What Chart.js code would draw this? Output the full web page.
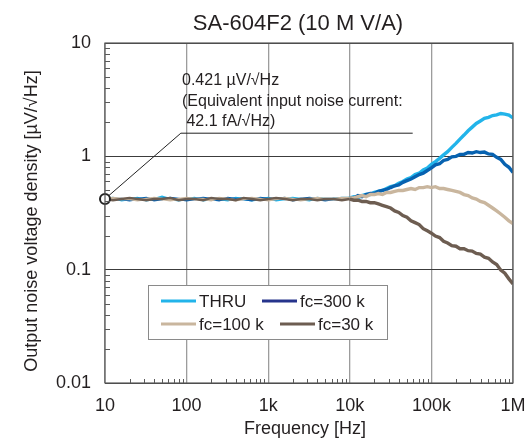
<!DOCTYPE html>
<html>
<head>
<meta charset="utf-8">
<script src="https://cdn.jsdelivr.net/npm/chart.js@4/dist/chart.umd.min.js"></script>
<style>
  body { margin: 0; background: #fff; }
  canvas { display: block; }
</style>
</head>
<body>
<canvas id="chart1" width="525" height="440"></canvas>
<script>
const FONT = "'Liberation Sans', Arial, sans-serif";
const TEXT = '#231f20';

// frequency points [Hz]
const freqs = [10, 12.5, 16, 20, 25, 32, 40, 50, 63, 80,
    100, 125, 160, 200, 250, 320, 400, 500, 630, 800,
    1000, 1250, 1600, 2000, 2500, 3200, 4000, 5000, 6300, 8000,
    10000, 11200, 12600, 14100, 15800, 17800, 20000, 22400, 25100, 28200,
    31600, 35500, 39800, 44700, 50100, 56200, 63100, 70800, 79400, 89100,
    100000, 112000, 126000, 141000, 158000, 178000, 200000, 224000, 251000, 282000,
    316000, 355000, 398000, 447000, 501000, 562000, 631000, 708000, 794000, 891000,
    1000000];

// output noise voltage density [uV/rtHz]
const thru = [0.42, 0.43, 0.41, 0.42, 0.43, 0.41, 0.42, 0.44, 0.42, 0.41,
    0.42, 0.43, 0.41, 0.42, 0.42, 0.41, 0.43, 0.42, 0.41, 0.42,
    0.43, 0.41, 0.42, 0.43, 0.42, 0.41, 0.43, 0.42, 0.42, 0.43,
    0.43, 0.44, 0.43, 0.45, 0.46, 0.46, 0.48, 0.49, 0.50, 0.52,
    0.54, 0.55, 0.58, 0.60, 0.63, 0.65, 0.69, 0.71, 0.76, 0.79,
    0.85, 0.90, 0.96, 1.03, 1.10, 1.20, 1.30, 1.42, 1.54, 1.68,
    1.81, 1.95, 2.05, 2.16, 2.21, 2.29, 2.32, 2.39, 2.36, 2.31,
    2.18];
const fc300k = [0.43, 0.42, 0.42, 0.41, 0.42, 0.43, 0.41, 0.42, 0.43, 0.42,
    0.41, 0.42, 0.43, 0.42, 0.41, 0.43, 0.42, 0.42, 0.41, 0.43,
    0.42, 0.42, 0.43, 0.41, 0.42, 0.43, 0.42, 0.41, 0.42, 0.42,
    0.43, 0.43, 0.45, 0.44, 0.46, 0.47, 0.47, 0.49, 0.50, 0.51,
    0.53, 0.55, 0.56, 0.59, 0.61, 0.63, 0.66, 0.69, 0.71, 0.75,
    0.79, 0.84, 0.86, 0.92, 0.94, 0.99, 1.00, 1.04, 1.04, 1.08,
    1.07, 1.10, 1.08, 1.09, 1.05, 1.04, 0.98, 0.94, 0.85, 0.80,
    0.72];
const fc100k = [0.42, 0.43, 0.42, 0.42, 0.41, 0.42, 0.43, 0.42, 0.41, 0.42,
    0.43, 0.42, 0.42, 0.41, 0.43, 0.42, 0.41, 0.42, 0.43, 0.42,
    0.41, 0.42, 0.43, 0.42, 0.41, 0.42, 0.43, 0.42, 0.42, 0.43,
    0.43, 0.43, 0.44, 0.45, 0.44, 0.46, 0.46, 0.47, 0.46, 0.48,
    0.48, 0.49, 0.50, 0.50, 0.51, 0.52, 0.51, 0.53, 0.53, 0.54,
    0.53, 0.54, 0.52, 0.52, 0.51, 0.50, 0.49, 0.48, 0.46, 0.45,
    0.43, 0.42, 0.40, 0.39, 0.37, 0.35, 0.33, 0.31, 0.29, 0.27,
    0.255];
const fc30k = [0.42, 0.41, 0.42, 0.43, 0.42, 0.41, 0.42, 0.42, 0.43, 0.41,
    0.42, 0.42, 0.41, 0.43, 0.42, 0.42, 0.41, 0.43, 0.42, 0.41,
    0.42, 0.43, 0.42, 0.41, 0.42, 0.42, 0.41, 0.42, 0.42, 0.41,
    0.42, 0.41, 0.41, 0.40, 0.40, 0.39, 0.39, 0.38, 0.37, 0.36,
    0.35, 0.33, 0.32, 0.30, 0.29, 0.27, 0.26, 0.25, 0.23, 0.22,
    0.21, 0.198, 0.192, 0.178, 0.172, 0.163, 0.161, 0.153, 0.153, 0.147,
    0.146, 0.139, 0.137, 0.129, 0.126, 0.117, 0.111, 0.099, 0.093, 0.083,
    0.075];

const legendLabels = ['THRU', 'fc=300 k', 'fc=100 k', 'fc=30 k'];
const lineColors = ['#22b4ea', '#0762b0', '#c9b69e', '#6d5d51'];
const legendColors = ['#22b4ea', '#26348c', '#c9b69e', '#6d5d51'];

const xTickValues = [10, 100, 1000, 10000, 100000, 1000000];
const xTickLabels = ['10', '100', '1k', '10k', '100k', '1M'];
const yTickValues = [0.01, 0.1, 1, 10];
const yTickLabels = ['0.01', '0.1', '1', '10'];

// annotation leader: marker at 0.421 uV/rtHz, elbow, end
const leaderX = [10, 85, 59000];
const leaderY = [0.421, 1.6, 1.6];
const noteLines = ['0.421 \u00b5V/\u221aHz', '(Equivalent input noise current:', ' 42.1 fA/\u221aHz)'];

function isDecade(v) {
    const l = Math.log10(v);
    return Math.abs(l - Math.round(l)) < 1e-6;
}
function labelFor(values, labels, v) {
    for (let i = 0; i < values.length; i++) {
        if (Math.abs(Math.log10(v) - Math.log10(values[i])) < 1e-6) return labels[i];
    }
    return '';
}

function series(vals) {
    return freqs.map((f, i) => ({ x: f, y: vals[i] }));
}

const seriesData = [thru, fc300k, fc100k, fc30k];
const drawOrder = [3, 2, 1, 0];

const datasets = seriesData.map((vals, i) => ({
    label: legendLabels[i],
    data: series(vals),
    borderColor: lineColors[i],
    borderWidth: 2.4,
    pointRadius: 0,
    tension: 0,
    fill: false,
    order: drawOrder[i],
    // the measured trace gets fuzzier at high frequency
    segment: { borderWidth: c => c.p0.parsed.x >= 10000 ? 3.4 : 2.4 }
}));

datasets.push({
    label: 'leader',
    data: leaderX.map((x, i) => ({ x: x, y: leaderY[i] })),
    borderColor: '#222',
    borderWidth: 1,
    pointRadius: [5, 0, 0],
    pointBorderWidth: 2,
    pointBorderColor: '#222',
    pointBackgroundColor: '#fff',
    tension: 0,
    fill: false,
    clip: false,
    order: -1
});

const decorPlugin = {
    id: 'decor',
    afterDraw(chart) {
        const ctx = chart.ctx;
        const a = chart.chartArea;
        const xs = chart.scales.x;
        const ys = chart.scales.y;
        ctx.save();

        // frame
        ctx.strokeStyle = '#5a5a5a';
        ctx.lineWidth = 1.2;
        ctx.strokeRect(a.left, a.top, a.right - a.left, a.bottom - a.top);

        // inward minor ticks
        ctx.lineWidth = 1;
        ctx.beginPath();
        for (let d = 10; d < 1000000; d *= 10) {
            for (let k = 2; k <= 9; k++) {
                const px = Math.round(xs.getPixelForValue(k * d)) + 0.5;
                ctx.moveTo(px, a.bottom);
                ctx.lineTo(px, a.bottom - 4);
            }
        }
        for (let d = 0.01; d < 9; d *= 10) {
            for (let k = 2; k <= 9; k++) {
                const py = Math.round(ys.getPixelForValue(k * d)) + 0.5;
                ctx.moveTo(a.left, py);
                ctx.lineTo(a.left + 5, py);
            }
        }
        ctx.stroke();

        ctx.fillStyle = TEXT;
        // title
        ctx.font = '22px ' + FONT;
        ctx.textAlign = 'center';
        ctx.textBaseline = 'alphabetic';
        ctx.fillText('SA-604F2 (10 M V/A)', 298, 30);

        // axis titles
        ctx.font = '18px ' + FONT;
        ctx.fillText('Frequency [Hz]', 305, 434);
        ctx.save();
        ctx.translate(37, 221);
        ctx.rotate(-Math.PI / 2);
        ctx.fillText('Output noise voltage density [\u00b5V/\u221aHz]', 0, 0);
        ctx.restore();

        // annotation text
        ctx.font = '16px ' + FONT;
        ctx.textAlign = 'left';
        noteLines.forEach((t, i) => ctx.fillText(t, 182, 85 + i * 20.5));

        // legend
        const lx = 148, ly = 285, lw = 239, lh = 54;
        ctx.fillStyle = '#fff';
        ctx.fillRect(lx, ly, lw, lh);
        ctx.strokeStyle = '#8a8a8a';
        ctx.lineWidth = 1;
        ctx.strokeRect(lx + 0.5, ly + 0.5, lw, lh);
        const items = [
            { x: 161, y: 301 }, { x: 262, y: 301 },
            { x: 161, y: 324 }, { x: 280, y: 324 }
        ];
        ctx.font = '17px ' + FONT;
        ctx.textBaseline = 'middle';
        items.forEach((p, i) => {
            ctx.strokeStyle = legendColors[i];
            ctx.lineWidth = 3;
            ctx.beginPath();
            ctx.moveTo(p.x, p.y);
            ctx.lineTo(p.x + 35, p.y);
            ctx.stroke();
            ctx.fillStyle = TEXT;
            ctx.fillText(legendLabels[i], p.x + 38, p.y + 1);
        });
        ctx.restore();
    }
};

const ctx1 = document.getElementById('chart1').getContext('2d');
const chart1 = new Chart(ctx1, {
    type: 'line',
    data: { datasets: datasets },
    options: {
        responsive: false,
        animation: false,
        layout: { padding: { top: 43, right: 12, left: 0, bottom: 0 } },
        plugins: {
            legend: { display: false },
            tooltip: { enabled: false }
        },
        scales: {
            x: {
                type: 'logarithmic',
                min: 10,
                max: 1000000,
                afterFit: s => {
                    s.height = 57;
                    s.paddingLeft = 0;
                    s.paddingRight = 0;
                },
                border: { display: false },
                grid: {
                    drawTicks: false,
                    color: c => (c.tick && isDecade(c.tick.value)) ? '#9c9c9c' : 'rgba(0,0,0,0)',
                    lineWidth: 1.3
                },
                ticks: {
                    autoSkip: false,
                    maxRotation: 0,
                    padding: 12,
                    color: TEXT,
                    font: { family: FONT, size: 18 },
                    callback: v => labelFor(xTickValues, xTickLabels, v)
                }
            },
            y: {
                type: 'logarithmic',
                min: 0.01,
                max: 10,
                afterFit: s => { s.width = 105; },
                border: { display: false },
                grid: {
                    drawTicks: false,
                    color: c => (c.tick && isDecade(c.tick.value)) ? '#3c3c3c' : 'rgba(0,0,0,0)',
                    lineWidth: 1
                },
                ticks: {
                    autoSkip: false,
                    padding: 14,
                    color: TEXT,
                    font: { family: FONT, size: 18 },
                    callback: v => labelFor(yTickValues, yTickLabels, v)
                }
            }
        }
    },
    plugins: [decorPlugin]
});
</script>
</body>
</html>
